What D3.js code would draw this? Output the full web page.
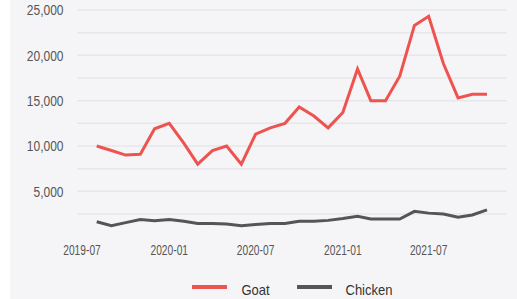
<!DOCTYPE html>
<html>
<head>
<meta charset="utf-8">
<script src="https://cdn.jsdelivr.net/npm/d3@7"></script>
<style>
  html, body { margin: 0; padding: 0; background: #ffffff; }
  svg { display: block; }
  .axis-text { font-family: "Liberation Sans", Arial, sans-serif; fill: #555555; }
  .legend-text { font-family: "Liberation Sans", Arial, sans-serif; font-size: 14px; fill: #333333; }
</style>
</head>
<body>
<svg id="chart" width="517" height="299"></svg>
<script>
const months = ["2019-08","2019-09","2019-10","2019-11","2019-12","2020-01","2020-02","2020-03","2020-04","2020-05","2020-06","2020-07","2020-08","2020-09","2020-10","2020-11","2020-12","2021-01","2021-02","2021-03","2021-04","2021-05","2021-06","2021-07","2021-08","2021-09","2021-10","2021-11"];
const goat = [10000, 9500, 9000, 9100, 11900, 12500, 10300, 8000, 9500, 10000, 8000, 11300, 12000, 12500, 14300, 13300, 12000, 13700, 18500, 15000, 15000, 17700, 23300, 24300, 19100, 15300, 15700, 15700];
const chicken = [1650, 1200, 1550, 1900, 1750, 1900, 1700, 1450, 1450, 1400, 1200, 1350, 1450, 1450, 1700, 1700, 1800, 2000, 2250, 1950, 1950, 1950, 2800, 2600, 2500, 2150, 2400, 2950];
const xTickLabels = ["2019-07","2020-01","2020-07","2021-01","2021-07"];
const yTickValues = [5000, 10000, 15000, 20000, 25000];
const gridValues = [2500, 5000, 7500, 10000, 12500, 15000, 17500, 20000, 22500, 25000];
const seriesNames = ["Goat", "Chicken"];
const seriesColors = ["#ef5350", "#555555"];

const parse = d3.timeParse("%Y-%m");
const dates = months.map(parse);

const svg = d3.select("#chart");
// panel background
svg.append("rect").attr("x", 10).attr("y", 0).attr("width", 507).attr("height", 299).attr("fill", "#f5f5f7");

const x = d3.scaleTime().domain(d3.extent(dates)).range([96.7, 487]);
const y = d3.scaleLinear().domain([0, 25000]).range([236.7, 10]);
const gridX0 = 77, gridX1 = 507;

// gridlines
svg.append("g").selectAll("line").data(gridValues).join("line")
  .attr("x1", gridX0).attr("x2", gridX1)
  .attr("y1", d => y(d)).attr("y2", d => y(d))
  .attr("stroke", "#e7e7eb").attr("stroke-width", 1.5);

// y labels (condensed glyphs)
svg.append("g").selectAll("text").data(yTickValues).join("text")
  .attr("class", "axis-text")
  .attr("font-size", 15)
  .attr("transform", d => `translate(63.5,${y(d)}) scale(0.8,1)`)
  .attr("dy", "0.36em")
  .attr("text-anchor", "end")
  .text(d => d3.format(",")(d));

// x labels
svg.append("g").selectAll("text").data(xTickLabels).join("text")
  .attr("class", "axis-text")
  .attr("font-size", 14)
  .attr("transform", d => `translate(${x(parse(d))},255) scale(0.73,1)`)
  .attr("text-anchor", "middle")
  .text(d => d);

const line = d3.line().x((d, i) => x(dates[i])).y(d => y(d));
[goat, chicken].forEach((s, k) => {
  svg.append("path").datum(s)
    .attr("d", line)
    .attr("fill", "none")
    .attr("stroke", seriesColors[k])
    .attr("stroke-width", 3)
    .attr("stroke-linejoin", "miter");
});

// legend
const legendItems = [{x: 192, tx: 241.5}, {x: 297, tx: 345.5}];
legendItems.forEach((p, k) => {
  svg.append("line").attr("x1", p.x).attr("x2", p.x + 35).attr("y1", 287).attr("y2", 287)
    .attr("stroke", seriesColors[k]).attr("stroke-width", 4);
  svg.append("text").attr("class", "legend-text")
    .attr("transform", `translate(${p.tx},295) scale(0.93,1)`)
    .text(seriesNames[k]);
});
</script>
</body>
</html>
